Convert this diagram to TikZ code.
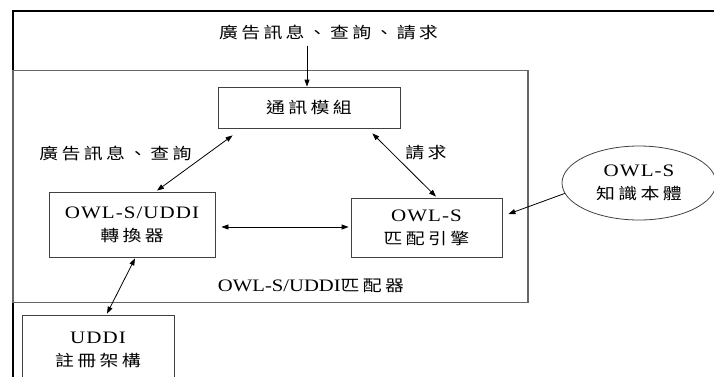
\documentclass[tikz,border=0pt]{standalone}
\usepackage{fontspec}
\setmainfont{Liberation Serif}[FakeStretch=1.2, LetterSpace=6]
\newfontfamily\latn{Liberation Serif}[FakeStretch=1.18]
\newfontfamily\cjk{Noto Sans CJK TC}[Scale=0.9, FakeStretch=1.2, LetterSpace=21]
\usetikzlibrary{arrows.meta,shapes.geometric,calc}
\newcommand\fs{\fontsize{17.5}{23}\selectfont}
\tikzset{
  box/.style={draw=black!75, line width=0.8pt, rectangle, inner sep=0pt, align=center, font=\fs},
  lbl/.style={inner sep=0pt, align=center, font=\fs},
  tipa/.tip={Triangle[length=7pt,width=5pt]},
  arr/.style={tipa-tipa, line width=0.8pt},
  arrone/.style={-tipa, line width=0.8pt},
}
\begin{document}
\begin{tikzpicture}[x=1pt,y=-1pt]
\useasboundingbox (0,0) rectangle (714,376);
\clip (0,0) rectangle (714,376);
% frames
\draw[line width=2pt] (720,11) -- (13,11) -- (13,390);
\draw[black!60, line width=1.3pt] (13,70.5) rectangle (528,302.5);
% nodes
\node[lbl] (top) at (328.5,33) {\cjk 廣告訊息、查詢、請求};
\node[box, minimum width=182, minimum height=41] (comm) at (309,107.5) {\cjk 通訊模組};
\node[box, minimum width=166, minimum height=65] (conv) at (132,224.5) {OWL-S/UDDI\\\cjk 轉換器};
\node[box, minimum width=151, minimum height=59] (engine) at (426.5,227.5) {OWL-S\\\cjk 匹配引擎};
\node[ellipse, draw=black!75, line width=0.8pt, minimum width=154, minimum height=74, inner sep=0pt, align=center, font=\fs] (onto) at (639,183) {OWL-S\\\cjk 知識本體};
\node[box, minimum width=152, minimum height=70] (uddi) at (98,350) {UDDI\\\cjk 註冊架構};
\node[lbl] (l1) at (115.5,153) {\cjk 廣告訊息、查詢};
\node[lbl] (l2) at (426,153) {\cjk 請求};
\node[lbl] (l3) at (311,286) {\latn OWL-S/UDDI\cjk 匹配器};
% connectors
\coordinate (ct) at ([xshift=-2pt]comm.north);
\draw[arrone, shorten <=5pt] (ct |- top.south) -- (ct);
\draw[arr] ([xshift=15pt,yshift=-7pt]comm.south west) -- ([xshift=25pt,yshift=1pt]conv.north);
\draw[arr] ([xshift=-28pt,yshift=-5pt]comm.south east) -- ([xshift=9.5pt,yshift=1pt]engine.north);
\draw[arr] ([xshift=6pt,yshift=-2.5pt]conv.east) -- ([xshift=-2pt,yshift=-2.5pt]engine.west |- conv.east);
\draw[arrone] (onto.188) -- ([xshift=6pt,yshift=13.5pt]engine.east);
\draw[arr] ([xshift=3pt,yshift=-1pt]conv.south) -- ([xshift=9pt,yshift=1pt]uddi.north);
\end{tikzpicture}
\end{document}
